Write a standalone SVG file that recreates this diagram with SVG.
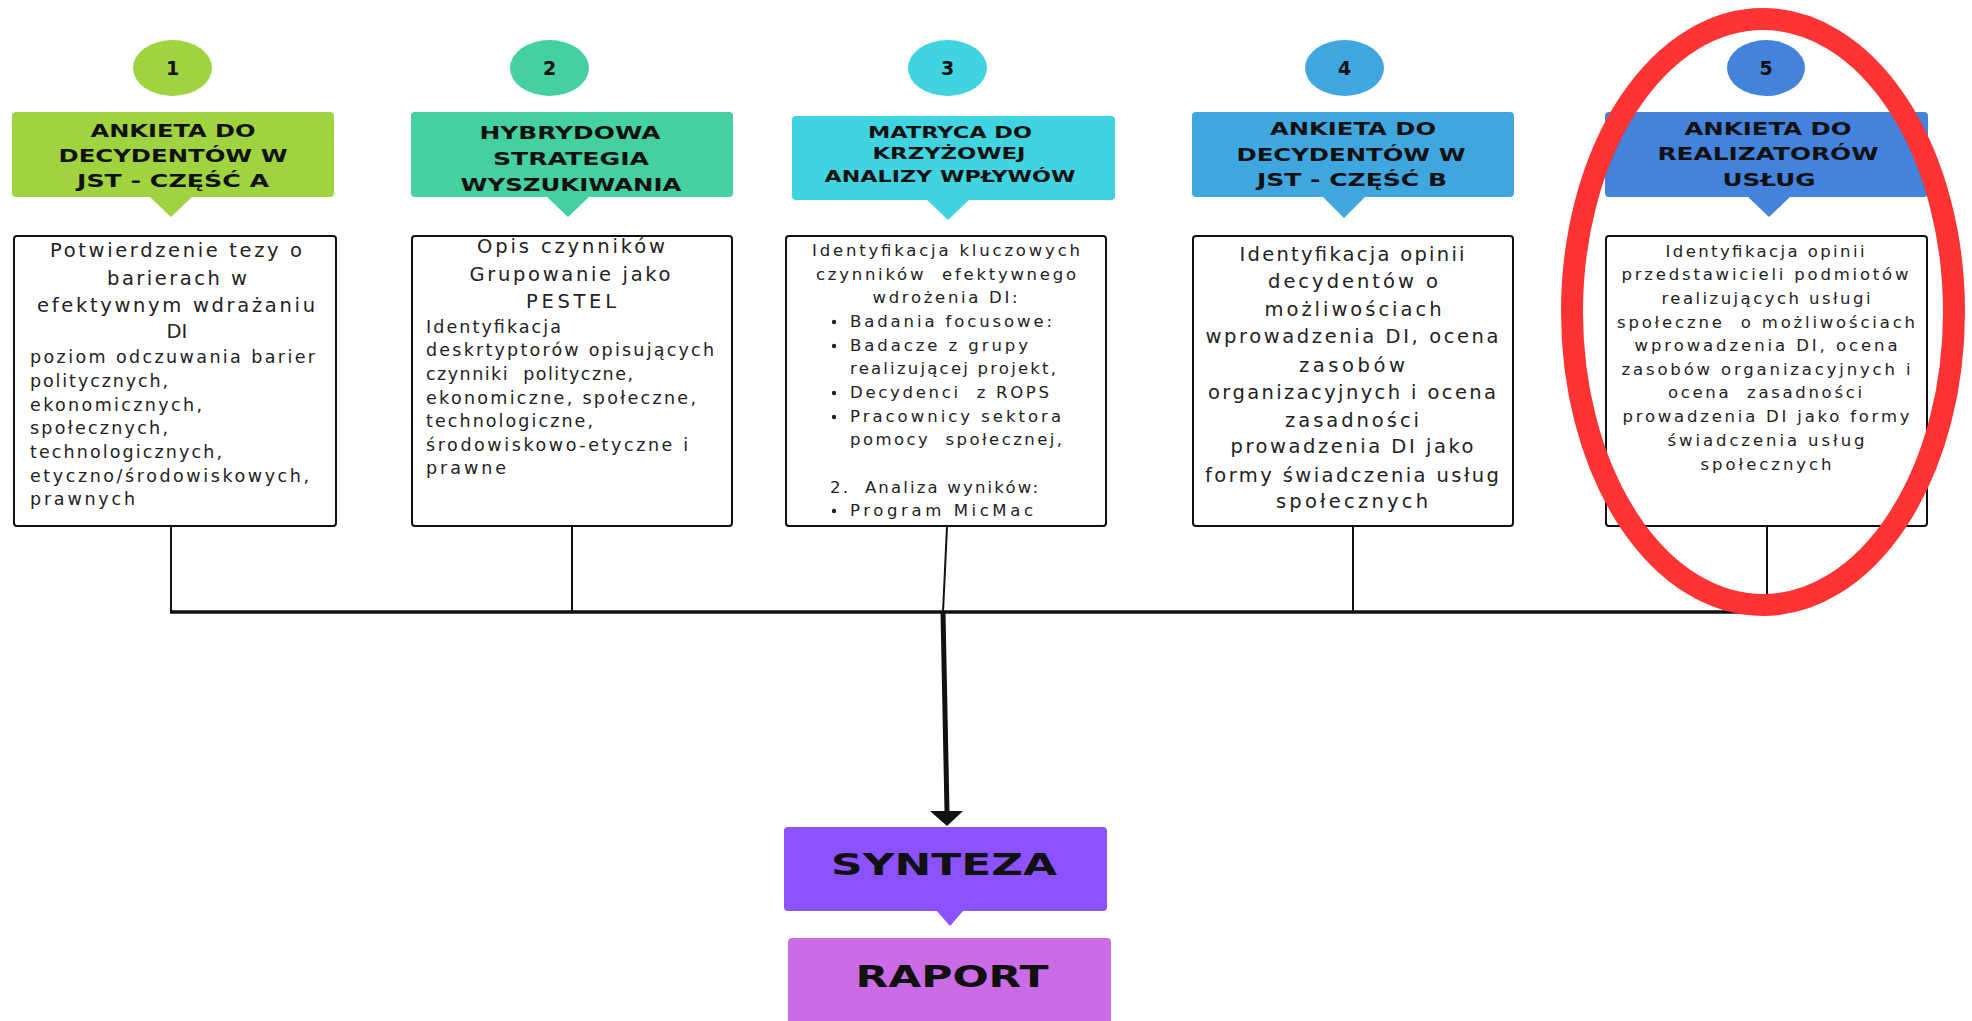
<svg xmlns="http://www.w3.org/2000/svg" width="1972" height="1021" viewBox="0 0 1972 1021">
  <style>
    .num { font-family: "DejaVu Sans", "Liberation Sans", sans-serif; font-weight: 700; font-size: 19px; fill: #111; text-anchor: middle; }
    .hd { font-family: "DejaVu Sans", "Liberation Sans", sans-serif; font-weight: 700; fill: #111; text-anchor: middle; }
    .box { fill: #fff; stroke: #111; stroke-width: 2; }
    .tx { font-family: "DejaVu Sans", "Liberation Sans", sans-serif; fill: #222; }
    .c { text-anchor: middle; }
    .big { font-size: 19.5px; }
    .sm { font-size: 17.5px; }
    .xs { font-size: 16.5px; }
    .wire { stroke: #111; stroke-width: 2; fill: none; }
    .bus { stroke: #111; stroke-width: 3.5; fill: none; }
    .final { font-family: "DejaVu Sans", "Liberation Sans", sans-serif; font-weight: 700; font-size: 30px; fill: #111; text-anchor: middle; }
  </style>

  <rect width="1972" height="1021" fill="#fff"/>

  <!-- Step 1 -->
  <g id="step1">
    <ellipse cx="172.5" cy="68" rx="39.5" ry="28" fill="#9FD33F"/>
    <text class="num" x="172.5" y="75">1</text>
    <rect x="12" y="112" width="322" height="85" rx="4" fill="#9FD33F"/>
    <polygon points="149,196 193,196 171,217" fill="#9FD33F"/>
    <text class="hd" font-size="17.5" x="173" y="137" textLength="165" lengthAdjust="spacingAndGlyphs">ANKIETA DO</text>
    <text class="hd" font-size="17.5" x="173" y="162" textLength="229" lengthAdjust="spacingAndGlyphs">DECYDENTÓW W</text>
    <text class="hd" font-size="17.5" x="173" y="187" textLength="192" lengthAdjust="spacingAndGlyphs">JST - CZĘŚĆ A</text>
    <rect class="box" x="14" y="236" width="322" height="290" rx="3"/>
    <text class="tx big c" x="176" y="257" textLength="252" lengthAdjust="spacing">Potwierdzenie tezy o</text>
    <text class="tx big c" x="177" y="285" textLength="140" lengthAdjust="spacing">barierach w</text>
    <text class="tx big c" x="176" y="312" textLength="278" lengthAdjust="spacing">efektywnym wdrażaniu</text>
    <text class="tx big c" x="177" y="338">DI</text>
    <text class="tx sm" x="30" y="363" textLength="285" lengthAdjust="spacing">poziom odczuwania barier</text>
    <text class="tx sm" x="30" y="387" textLength="138" lengthAdjust="spacing">politycznych,</text>
    <text class="tx sm" x="30" y="411" textLength="172" lengthAdjust="spacing">ekonomicznych,</text>
    <text class="tx sm" x="30" y="434" textLength="138" lengthAdjust="spacing">społecznych,</text>
    <text class="tx sm" x="30" y="458" textLength="192" lengthAdjust="spacing">technologicznych,</text>
    <text class="tx sm" x="30" y="482" textLength="279" lengthAdjust="spacing">etyczno/środowiskowych,</text>
    <text class="tx sm" x="30" y="505" textLength="105" lengthAdjust="spacing">prawnych</text>
  </g>

  <!-- Step 2 -->
  <g id="step2">
    <ellipse cx="549.5" cy="68" rx="39.5" ry="28" fill="#45D0A0"/>
    <text class="num" x="549.5" y="75">2</text>
    <rect x="411" y="112" width="322" height="85" rx="4" fill="#45D0A0"/>
    <polygon points="546,196 590,196 568,217" fill="#45D0A0"/>
    <text class="hd" font-size="17.5" x="570" y="139" textLength="181" lengthAdjust="spacingAndGlyphs">HYBRYDOWA</text>
    <text class="hd" font-size="17.5" x="571" y="165" textLength="156" lengthAdjust="spacingAndGlyphs">STRATEGIA</text>
    <text class="hd" font-size="17.5" x="571" y="191" textLength="221" lengthAdjust="spacingAndGlyphs">WYSZUKIWANIA</text>
    <rect class="box" x="412" y="236" width="320" height="290" rx="3"/>
    <text class="tx big c" x="571" y="253" textLength="188" lengthAdjust="spacing">Opis czynników</text>
    <text class="tx big c" x="570" y="281" textLength="201" lengthAdjust="spacing">Grupowanie jako</text>
    <text class="tx big c" x="571" y="308" textLength="90" lengthAdjust="spacing">PESTEL</text>
    <text class="tx sm" x="426" y="333" textLength="135" lengthAdjust="spacing">Identyfikacja</text>
    <text class="tx sm" x="426" y="356" textLength="288" lengthAdjust="spacing">deskrtyptorów opisujących</text>
    <text class="tx sm" x="426" y="380" textLength="207" lengthAdjust="spacing" xml:space="preserve">czynniki  polityczne,</text>
    <text class="tx sm" x="426" y="404" textLength="270" lengthAdjust="spacing">ekonomiczne, społeczne,</text>
    <text class="tx sm" x="426" y="427" textLength="167" lengthAdjust="spacing">technologiczne,</text>
    <text class="tx sm" x="426" y="451" textLength="262" lengthAdjust="spacing">środowiskowo-etyczne i</text>
    <text class="tx sm" x="426" y="474" textLength="80" lengthAdjust="spacing">prawne</text>
  </g>

  <!-- Step 3 -->
  <g id="step3">
    <ellipse cx="947.5" cy="68" rx="39.5" ry="28" fill="#40D4E0"/>
    <text class="num" x="947.5" y="75">3</text>
    <rect x="792" y="116" width="323" height="84" rx="4" fill="#40D4E0"/>
    <polygon points="926,199 970,199 948,220" fill="#40D4E0"/>
    <text class="hd" font-size="16" x="950" y="138" textLength="164" lengthAdjust="spacingAndGlyphs">MATRYCA DO</text>
    <text class="hd" font-size="16" x="949" y="159" textLength="153" lengthAdjust="spacingAndGlyphs">KRZYŻOWEJ</text>
    <text class="hd" font-size="16" x="950" y="182" textLength="251" lengthAdjust="spacingAndGlyphs">ANALIZY WPŁYWÓW</text>
    <rect class="box" x="786" y="236" width="320" height="290" rx="3"/>
    <text class="tx xs c" x="946" y="256" textLength="268" lengthAdjust="spacing">Identyfikacja kluczowych</text>
    <text class="tx xs c" x="946" y="280" textLength="260" lengthAdjust="spacing" xml:space="preserve">czynników  efektywnego</text>
    <text class="tx xs c" x="945" y="303" textLength="145" lengthAdjust="spacing">wdrożenia DI:</text>
    <g fill="#222">
      <circle cx="834" cy="322" r="2.2"/>
      <circle cx="834" cy="346" r="2.2"/>
      <circle cx="834" cy="393" r="2.2"/>
      <circle cx="834" cy="417" r="2.2"/>
      <circle cx="834" cy="511" r="2.2"/>
    </g>
    <text class="tx xs" x="850" y="327" textLength="202" lengthAdjust="spacing">Badania focusowe:</text>
    <text class="tx xs" x="850" y="351" textLength="178" lengthAdjust="spacing">Badacze z grupy</text>
    <text class="tx xs" x="850" y="374" textLength="206" lengthAdjust="spacing">realizującej projekt,</text>
    <text class="tx xs" x="850" y="398" textLength="199" lengthAdjust="spacing" xml:space="preserve">Decydenci  z ROPS</text>
    <text class="tx xs" x="850" y="422" textLength="211" lengthAdjust="spacing">Pracownicy sektora</text>
    <text class="tx xs" x="850" y="445" textLength="212" lengthAdjust="spacing" xml:space="preserve">pomocy  społecznej,</text>
    <text class="tx xs" x="830" y="493" textLength="208" lengthAdjust="spacing" xml:space="preserve">2.  Analiza wyników:</text>
    <text class="tx xs" x="850" y="516" textLength="183" lengthAdjust="spacing">Program MicMac</text>
  </g>

  <!-- Step 4 -->
  <g id="step4">
    <ellipse cx="1344.5" cy="68" rx="39.5" ry="28" fill="#40A6E0"/>
    <text class="num" x="1344.5" y="75">4</text>
    <rect x="1192" y="112" width="322" height="85" rx="4" fill="#40A6E0"/>
    <polygon points="1322,196 1366,196 1344,218" fill="#40A6E0"/>
    <text class="hd" font-size="17.5" x="1353" y="135" textLength="166" lengthAdjust="spacingAndGlyphs">ANKIETA DO</text>
    <text class="hd" font-size="17.5" x="1351" y="161" textLength="229" lengthAdjust="spacingAndGlyphs">DECYDENTÓW W</text>
    <text class="hd" font-size="17.5" x="1352" y="186" textLength="190" lengthAdjust="spacingAndGlyphs">JST - CZĘŚĆ B</text>
    <rect class="box" x="1193" y="236" width="320" height="290" rx="3"/>
    <text class="tx big c" x="1352" y="261" textLength="225" lengthAdjust="spacing">Identyfikacja opinii</text>
    <text class="tx big c" x="1353" y="288" textLength="170" lengthAdjust="spacing">decydentów o</text>
    <text class="tx big c" x="1353" y="316" textLength="177" lengthAdjust="spacing">możliwościach</text>
    <text class="tx big c" x="1352" y="343" textLength="293" lengthAdjust="spacing">wprowadzenia DI, ocena</text>
    <text class="tx big c" x="1352" y="372" textLength="106" lengthAdjust="spacing">zasobów</text>
    <text class="tx big c" x="1352" y="399" textLength="288" lengthAdjust="spacing">organizacyjnych i ocena</text>
    <text class="tx big c" x="1352" y="427" textLength="134" lengthAdjust="spacing">zasadności</text>
    <text class="tx big c" x="1352" y="453" textLength="243" lengthAdjust="spacing">prowadzenia DI jako</text>
    <text class="tx big c" x="1352" y="482" textLength="294" lengthAdjust="spacing">formy świadczenia usług</text>
    <text class="tx big c" x="1352" y="508" textLength="152" lengthAdjust="spacing">społecznych</text>
  </g>

  <!-- Step 5 -->
  <g id="step5">
    <ellipse cx="1766" cy="68" rx="39" ry="28" fill="#4383DC"/>
    <text class="num" x="1766" y="75">5</text>
    <rect x="1605" y="112" width="323" height="85" rx="4" fill="#4383DC"/>
    <polygon points="1747,196 1791,196 1769,217" fill="#4383DC"/>
    <text class="hd" font-size="17" x="1768" y="135" textLength="167" lengthAdjust="spacingAndGlyphs">ANKIETA DO</text>
    <text class="hd" font-size="17" x="1768" y="160" textLength="221" lengthAdjust="spacingAndGlyphs">REALIZATORÓW</text>
    <text class="hd" font-size="17" x="1769" y="186" textLength="93" lengthAdjust="spacingAndGlyphs">USŁUG</text>
    <rect class="box" x="1606" y="236" width="321" height="290" rx="3"/>
    <text class="tx xs c" x="1765" y="257" textLength="199" lengthAdjust="spacing">Identyfikacja opinii</text>
    <text class="tx xs c" x="1765" y="280" textLength="287" lengthAdjust="spacing">przedstawicieli podmiotów</text>
    <text class="tx xs c" x="1766" y="304" textLength="209" lengthAdjust="spacing">realizujących usługi</text>
    <text class="tx xs c" x="1766" y="328" textLength="298" lengthAdjust="spacing" xml:space="preserve">społeczne  o możliwościach</text>
    <text class="tx xs c" x="1766" y="351" textLength="263" lengthAdjust="spacing">wprowadzenia DI, ocena</text>
    <text class="tx xs c" x="1766" y="375" textLength="289" lengthAdjust="spacing">zasobów organizacyjnych i</text>
    <text class="tx xs c" x="1765" y="398" textLength="194" lengthAdjust="spacing" xml:space="preserve">ocena  zasadności</text>
    <text class="tx xs c" x="1766" y="422" textLength="287" lengthAdjust="spacing">prowadzenia DI jako formy</text>
    <text class="tx xs c" x="1766" y="446" textLength="197" lengthAdjust="spacing">świadczenia usług</text>
    <text class="tx xs c" x="1766" y="470" textLength="131" lengthAdjust="spacing">społecznych</text>
  </g>

  <!-- Synthesis and report -->
  <g id="synteza">
    <rect x="784" y="827" width="323" height="84" rx="4" fill="#8C52FF"/>
    <polygon points="936,910 964,910 950,926" fill="#8C52FF"/>
    <text class="final" x="944" y="875" textLength="226" lengthAdjust="spacingAndGlyphs">SYNTEZA</text>
  </g>
  <g id="raport">
    <rect x="788" y="938" width="323" height="100" rx="4" fill="#CB6CE6"/>
    <text class="final" font-size="31" x="952" y="987" textLength="193" lengthAdjust="spacingAndGlyphs">RAPORT</text>
  </g>

  <!-- Connectors: drops from each box onto a shared bus, then one arrow down -->
  <g id="connectors">
    <line class="wire" x1="171" y1="527" x2="171" y2="612"/>
    <line class="wire" x1="572" y1="527" x2="572" y2="612"/>
    <line class="wire" x1="947" y1="527" x2="943" y2="612"/>
    <line class="wire" x1="1353" y1="527" x2="1353" y2="612"/>
    <line class="wire" x1="1767" y1="527" x2="1767" y2="612"/>
    <line class="bus" x1="170" y1="612" x2="1768" y2="612"/>
    <line stroke="#111" stroke-width="5" x1="943" y1="612" x2="947" y2="812"/>
    <polygon points="930,811 963,811 947,826" fill="#111"/>
  </g>

  <!-- Highlight ring around step 5 -->
  <ellipse id="highlight" cx="1763" cy="312" rx="191" ry="293" fill="none" stroke="#FF3333" stroke-width="22"/>
</svg>
